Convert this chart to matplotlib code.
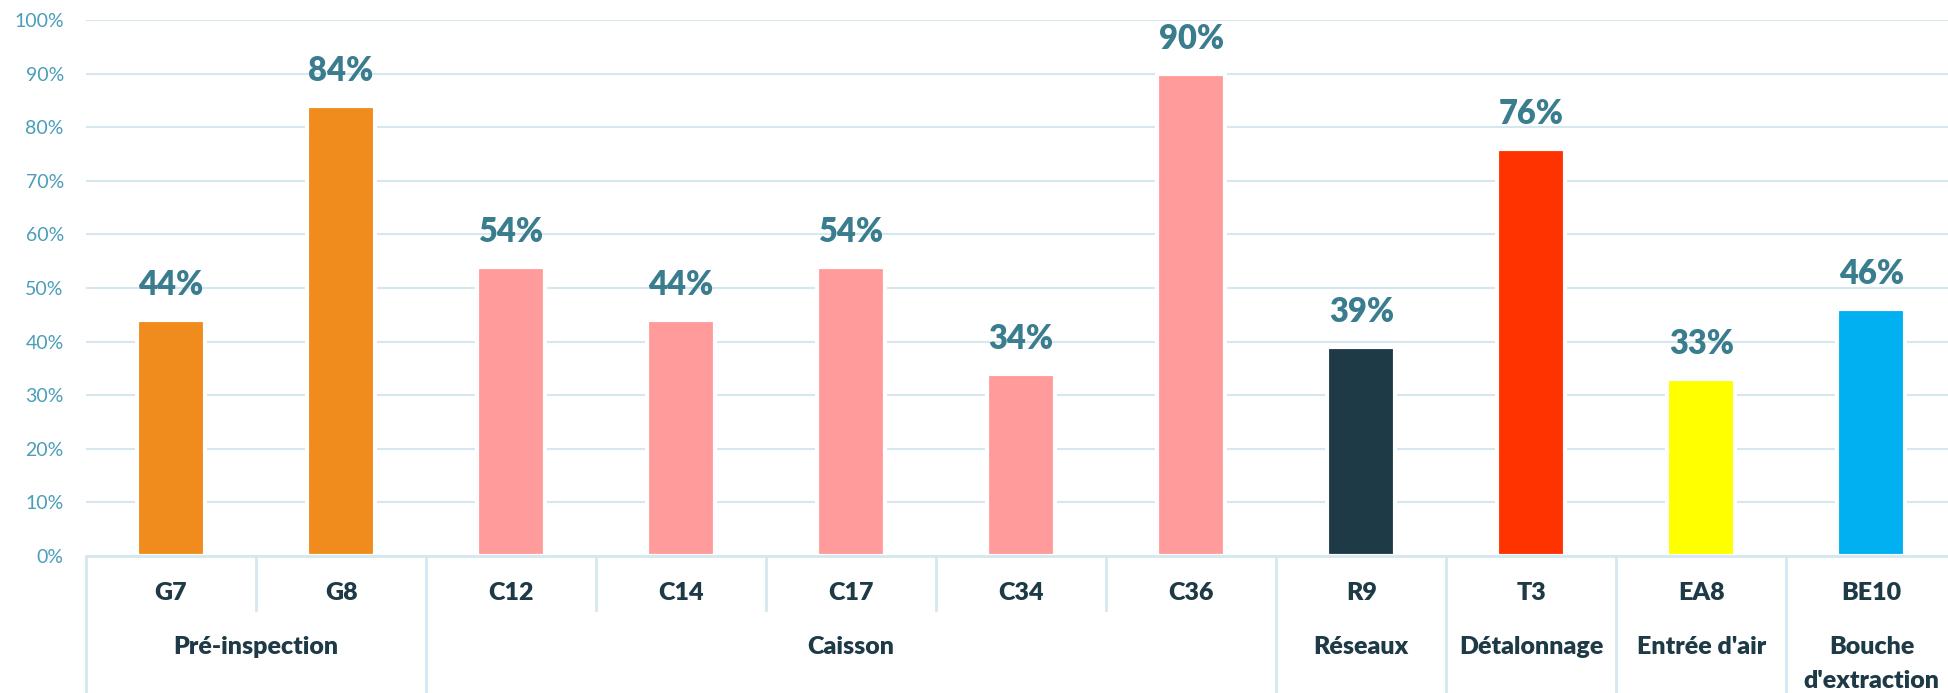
import matplotlib
matplotlib.use('Agg')
import matplotlib.pyplot as plt
import matplotlib.transforms as mtransforms

plt.rcParams['font.family'] = ['Lato', 'DejaVu Sans']

categories = ['G7', 'G8', 'C12', 'C14', 'C17', 'C34', 'C36', 'R9', 'T3', 'EA8', 'BE10']
values = [0.44, 0.84, 0.54, 0.44, 0.54, 0.34, 0.90, 0.39, 0.76, 0.33, 0.46]
groups = ['Pré-inspection', 'Caisson', 'Réseaux', 'Détalonnage', "Entrée d'air", "Bouche\nd'extraction"]
group_sizes = [2, 5, 1, 1, 1, 1]
bar_colors = ['#F08C1E', '#F08C1E', '#FF9B9B', '#FF9B9B', '#FF9B9B', '#FF9B9B', '#FF9B9B',
              '#1E3A46', '#FF3300', '#FFFF00', '#00B0F0']

grid_col = '#D5E7EF'
fig = plt.figure(figsize=(19.48, 6.93), dpi=100)
ax = fig.add_axes([86/1948, 137/693, 1 - 86/1948, 536/693])

x = list(range(len(categories)))
ax.set_axisbelow(True)
ax.bar(x, values, width=0.4, color=bar_colors, edgecolor='white', linewidth=3, zorder=2)

for xi, v in zip(x, values):
    ax.annotate('%d%%' % round(v * 100), (xi, v), xytext=(0, 18), textcoords='offset points',
                ha='center', va='baseline', fontsize=23.5, fontweight='heavy', color='#3A7D8F')

ax.set_xlim(-0.5, 10.45)
ax.set_ylim(0, 1)
ax.set_yticks([i / 10 for i in range(11)])
ax.set_yticklabels(['%d%%' % (i * 10) for i in range(11)])
ax.tick_params(axis='y', length=0, pad=16, labelsize=14, labelcolor='#4A9EB8')
ax.set_xticks([])
ax.grid(axis='y', color=grid_col, linewidth=1.5, zorder=0)
for s in ['top', 'right', 'left']:
    ax.spines[s].set_visible(False)
ax.spines['bottom'].set_color(grid_col)
ax.spines['bottom'].set_linewidth(2)

trans = mtransforms.blended_transform_factory(ax.transData, ax.transAxes)
label_col = '#1E3A46'

# first row: category names, inner separators
for xi, c in zip(x, categories):
    ax.text(xi, -0.069, c, transform=trans, ha='center', va='center',
            fontsize=18, fontweight='heavy', color=label_col)

start = 0
bounds = [-0.5]
for g, n in zip(groups, group_sizes):
    center = start + (n - 1) / 2
    for i, line in enumerate(g.split('\n')):
        ax.text(center, -0.170 - i * 0.063, line, transform=trans, ha='center', va='center',
                fontsize=18, fontweight='heavy', color=label_col)
    for k in range(1, n):
        ax.plot([start + k - 0.5] * 2, [0, -0.1], transform=trans, color=grid_col,
                linewidth=2, clip_on=False)
    start += n
    bounds.append(start - 0.5)

for b in bounds:
    ax.plot([b, b], [0, -0.26], transform=trans, color=grid_col, linewidth=2, clip_on=False)

fig.savefig('out.png', dpi=100)
